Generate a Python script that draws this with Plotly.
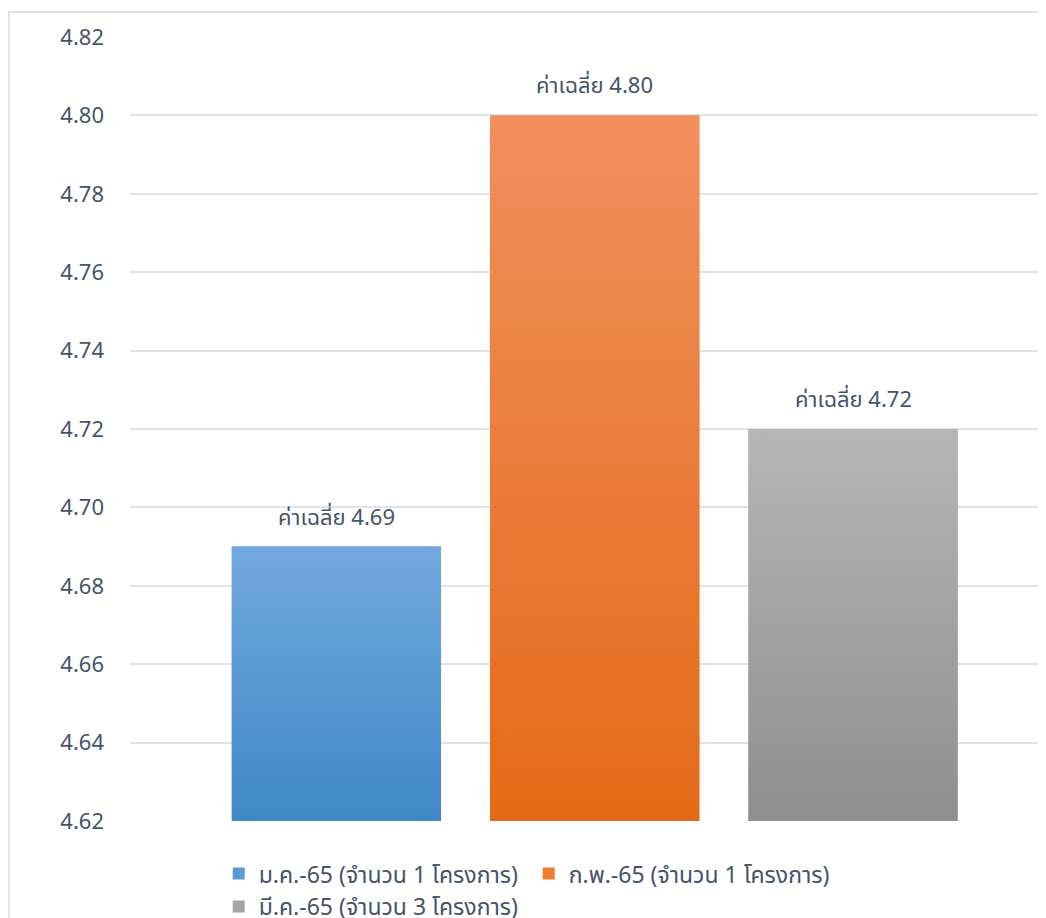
import plotly.graph_objects as go

categories = ["ม.ค.-65 (จำนวน 1 โครงการ)", "ก.พ.-65 (จำนวน 1 โครงการ)", "มี.ค.-65 (จำนวน 3 โครงการ)"]
values = [4.69, 4.80, 4.72]
labels = ["ค่าเฉลี่ย 4.69", "ค่าเฉลี่ย 4.80", "ค่าเฉลี่ย 4.72"]
base_colors = ["#5b9bd5", "#ed7d31", "#a5a5a5"]
top_colors = ["#72a8dd", "#f18f5d", "#b6b6b6"]
bottom_colors = ["#3f88c8", "#e46a17", "#8e8e8e"]
y_ticks = [4.62, 4.64, 4.66, 4.68, 4.70, 4.72, 4.74, 4.76, 4.78, 4.80, 4.82]

FONT = "Noto Sans, Noto Sans Thai, sans-serif"
TXT = "#44546a"
BAR_W = 0.81
y_min = y_ticks[0]

fig = go.Figure()
for i, (cat, v) in enumerate(zip(categories, values)):
    fig.add_trace(go.Bar(
        x=[i], y=[v], width=BAR_W, name=cat,
        marker=dict(color=base_colors[i], line=dict(width=0)),
        hoverinfo="skip",
    ))
for i, v in enumerate(values):
    x0, x1 = i - BAR_W / 2, i + BAR_W / 2
    fig.add_trace(go.Scatter(
        x=[x0, x0, x1, x1, x0], y=[y_min, v, v, y_min, y_min],
        mode="lines", fill="toself", line=dict(width=0),
        fillgradient=dict(type="vertical", start=y_min, stop=v,
                          colorscale=[[0, bottom_colors[i]], [1, top_colors[i]]]),
        showlegend=False, hoverinfo="skip",
    ))

annotations = [
    dict(x=i, y=v, xref="x", yref="y", text=lab, showarrow=False,
         yanchor="bottom", yshift=14,
         font=dict(family=FONT, size=22, color=TXT))
    for i, (v, lab) in enumerate(zip(values, labels))
]

fig.update_layout(
    width=1038, height=910,
    margin=dict(l=122, r=0, t=29, b=97),
    plot_bgcolor="white", paper_bgcolor="white",
    barmode="overlay",
    font=dict(family=FONT, size=22, color=TXT),
    xaxis=dict(range=[-0.799, 2.747], showticklabels=False, showgrid=False,
               zeroline=False, showline=False, fixedrange=True),
    yaxis=dict(range=[4.62, 4.82], tickvals=y_ticks,
               ticktext=[f"{t:.2f}" for t in y_ticks],
               showgrid=True, gridcolor="#dfe3e8", gridwidth=1.5,
               zeroline=False, showline=False, ticks="", ticklabelstandoff=25,
               tickfont=dict(family=FONT, size=22, color=TXT)),
    legend=dict(orientation="h", xref="container", yref="container",
                x=0.203, xanchor="left", y=0.0724, yanchor="top",
                font=dict(family=FONT, size=23, color=TXT),
                entrywidth=265, entrywidthmode="pixels",
                itemwidth=30, tracegroupgap=0),
    showlegend=True,
    annotations=annotations,
    shapes=[dict(type="rect", xref="paper", yref="paper",
                 x0=-0.1321, x1=1.05, y0=-0.2, y1=1.0319,
                 line=dict(color="#dfe3e8", width=2), layer="below")],
)

fig.write_html("out.html")
